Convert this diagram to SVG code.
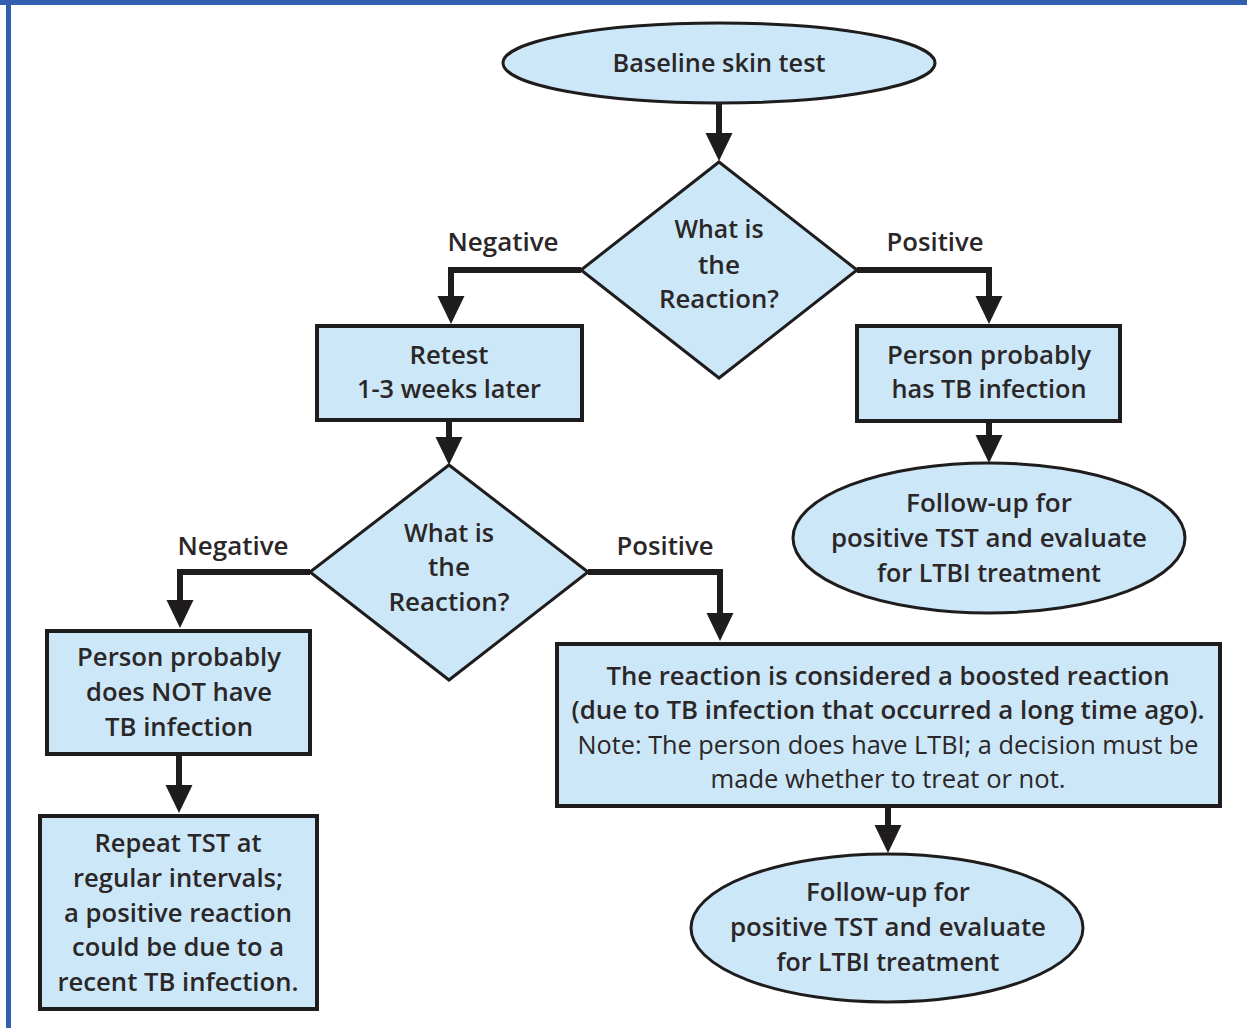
<svg xmlns="http://www.w3.org/2000/svg" width="1247" height="1028" viewBox="0 0 1247 1028">
<style>
.shape{fill:#cce8f8;stroke:#1f1c1d;stroke-width:3}
.box{fill:#cce8f8;stroke:#1f1c1d;stroke-width:4}
.t{font-family:"Open Sans","Noto Sans",sans-serif;font-weight:600;font-size:26px;fill:#2b2627;text-anchor:middle}
.n{font-weight:400}
.conn{fill:none;stroke:#1f1c1d;stroke-width:6;stroke-linejoin:miter}
</style>
<defs>
<marker id="ah" markerUnits="userSpaceOnUse" markerWidth="28" markerHeight="28" viewBox="0 0 27 26" refX="0" refY="13" orient="auto">
<path d="M0,0 L27,13 L0,26 z" fill="#1f1c1d"/>
</marker>
</defs>
<rect x="0" y="0" width="1247" height="1028" fill="#ffffff"/>
<rect x="0" y="0" width="1247" height="5" fill="#3360ae"/>
<rect x="6" y="0" width="5" height="1028" fill="#3360ae"/>

<g id="connectors">
<path class="conn" d="M719,104 V133" marker-end="url(#ah)"/>
<path class="conn" d="M581,270 H451 V296" marker-end="url(#ah)"/>
<path class="conn" d="M857,270 H989 V296" marker-end="url(#ah)"/>
<path class="conn" d="M449,420 V437" marker-end="url(#ah)"/>
<path class="conn" d="M989,421 V435" marker-end="url(#ah)"/>
<path class="conn" d="M310,572 H180 V600" marker-end="url(#ah)"/>
<path class="conn" d="M588,572 H720 V613" marker-end="url(#ah)"/>
<path class="conn" d="M179,755 V785" marker-end="url(#ah)"/>
<path class="conn" d="M888,807 V825" marker-end="url(#ah)"/>
<text class="t" x="503" y="251" textLength="111" lengthAdjust="spacingAndGlyphs">Negative</text>
<text class="t" x="935" y="251" textLength="97" lengthAdjust="spacingAndGlyphs">Positive</text>
<text class="t" x="233" y="555" textLength="111" lengthAdjust="spacingAndGlyphs">Negative</text>
<text class="t" x="665" y="555" textLength="97" lengthAdjust="spacingAndGlyphs">Positive</text>
</g>

<g id="baseline">
<ellipse class="shape" cx="719" cy="63" rx="216" ry="40"/>
<text class="t" x="719" y="72" textLength="213" lengthAdjust="spacingAndGlyphs">Baseline skin test</text>
</g>

<g id="decision1">
<polygon class="shape" points="719,162 857,270 719,378 581,270"/>
<text class="t" x="719" y="238" textLength="89" lengthAdjust="spacingAndGlyphs">What is</text>
<text class="t" x="719" y="274" textLength="42" lengthAdjust="spacingAndGlyphs">the</text>
<text class="t" x="719" y="308" textLength="120" lengthAdjust="spacingAndGlyphs">Reaction?</text>
</g>

<g id="retest">
<rect class="box" x="317" y="326" width="265" height="94"/>
<text class="t" x="449" y="364" textLength="79" lengthAdjust="spacingAndGlyphs">Retest</text>
<text class="t" x="449" y="398" textLength="184" lengthAdjust="spacingAndGlyphs">1-3 weeks later</text>
</g>

<g id="has-tb">
<rect class="box" x="857" y="326" width="263" height="95"/>
<text class="t" x="989" y="364" textLength="204" lengthAdjust="spacingAndGlyphs">Person probably</text>
<text class="t" x="989" y="398" textLength="195" lengthAdjust="spacingAndGlyphs">has TB infection</text>
</g>

<g id="followup1">
<ellipse class="shape" cx="989" cy="538" rx="196" ry="75"/>
<text class="t" x="989" y="512" textLength="166" lengthAdjust="spacingAndGlyphs">Follow-up for</text>
<text class="t" x="989" y="547" textLength="316" lengthAdjust="spacingAndGlyphs">positive TST and evaluate</text>
<text class="t" x="989" y="582" textLength="224" lengthAdjust="spacingAndGlyphs">for LTBI treatment</text>
</g>

<g id="decision2">
<polygon class="shape" points="449,465 588,572 449,680 310,572"/>
<text class="t" x="449" y="542" textLength="90" lengthAdjust="spacingAndGlyphs">What is</text>
<text class="t" x="449" y="576" textLength="42" lengthAdjust="spacingAndGlyphs">the</text>
<text class="t" x="449" y="611" textLength="121" lengthAdjust="spacingAndGlyphs">Reaction?</text>
</g>

<g id="no-tb">
<rect class="box" x="47" y="631" width="263" height="123"/>
<text class="t" x="179" y="666" textLength="204" lengthAdjust="spacingAndGlyphs">Person probably</text>
<text class="t" x="179" y="701" textLength="186" lengthAdjust="spacingAndGlyphs">does NOT have</text>
<text class="t" x="179" y="736" textLength="148" lengthAdjust="spacingAndGlyphs">TB infection</text>
</g>

<g id="repeat">
<rect class="box" x="40" y="816" width="277" height="193"/>
<text class="t" x="178" y="852" textLength="167" lengthAdjust="spacingAndGlyphs">Repeat TST at</text>
<text class="t" x="178" y="887" textLength="210" lengthAdjust="spacingAndGlyphs">regular intervals;</text>
<text class="t" x="178" y="922" textLength="228" lengthAdjust="spacingAndGlyphs">a positive reaction</text>
<text class="t" x="178" y="956" textLength="212" lengthAdjust="spacingAndGlyphs">could be due to a</text>
<text class="t" x="178" y="991" textLength="241" lengthAdjust="spacingAndGlyphs">recent TB infection.</text>
</g>

<g id="boosted">
<rect class="box" x="557" y="644" width="663" height="162"/>
<text class="t" x="888" y="685" textLength="563" lengthAdjust="spacingAndGlyphs">The reaction is considered a boosted reaction</text>
<text class="t" x="888" y="719" textLength="633" lengthAdjust="spacingAndGlyphs">(due to TB infection that occurred a long time ago).</text>
<text class="t n" x="888" y="754" textLength="621" lengthAdjust="spacingAndGlyphs">Note: The person does have LTBI; a decision must be</text>
<text class="t n" x="888" y="788" textLength="355" lengthAdjust="spacingAndGlyphs">made whether to treat or not.</text>
</g>

<g id="followup2">
<ellipse class="shape" cx="887" cy="928" rx="196" ry="74"/>
<text class="t" x="888" y="901" textLength="164" lengthAdjust="spacingAndGlyphs">Follow-up for</text>
<text class="t" x="888" y="936" textLength="316" lengthAdjust="spacingAndGlyphs">positive TST and evaluate</text>
<text class="t" x="888" y="971" textLength="223" lengthAdjust="spacingAndGlyphs">for LTBI treatment</text>
</g>
</svg>
